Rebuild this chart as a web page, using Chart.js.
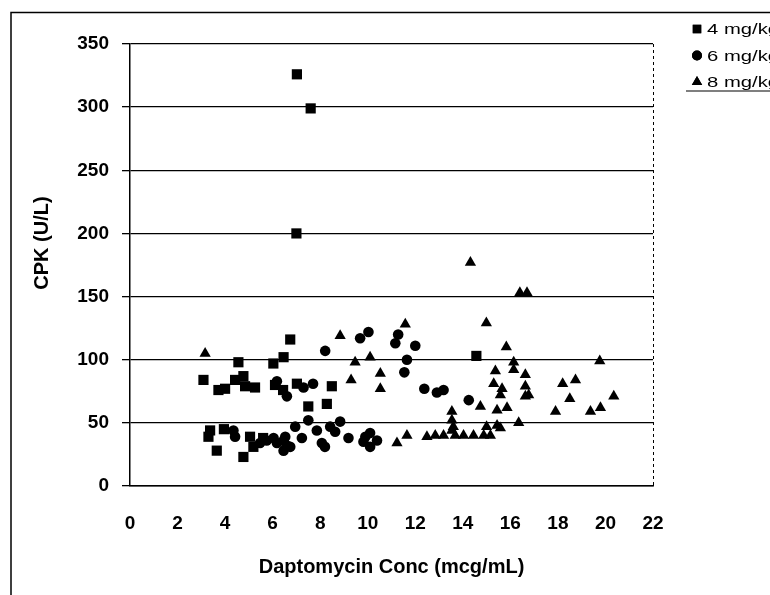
<!DOCTYPE html>
<html><head><meta charset="utf-8">
<script src="https://cdn.jsdelivr.net/npm/chart.js@4/dist/chart.umd.min.js"></script>
<style>html,body{margin:0;padding:0;background:#fff}#wrap{width:770px;height:595px;position:relative}</style>
</head><body><div id="wrap"><canvas id="c" width="770" height="595"></canvas></div>
<script>
// 4 mg/kg
const conc4 = [3.09,3.72,4.0,4.42,4.56,4.77,4.84,5.26,6.03,6.1,6.46,6.74,6.44,7.02,7.5,8.28,8.49,7.02,7.6,7.0,14.57,3.37,3.3,3.65,4.77,5.19,5.05,3.95,5.6];
const cpk4  = [84,76,77,84,98,87,79,78,97,80,102,116,76,81,63,65,79,326,299,200,103,44,39,28,23,31,39,45,38];
// 6 mg/kg
const conc6 = [4.35,4.42,5.47,5.75,6.04,6.18,6.46,6.6,6.46,6.53,6.74,6.95,7.23,7.5,7.86,8.07,8.2,8.42,8.63,8.84,9.19,9.9,10.1,10.39,10.1,9.82,6.18,6.6,7.3,7.7,8.21,9.68,10.03,11.16,11.28,12.0,11.65,11.54,12.38,12.91,13.19,14.25];
const cpk6  = [44,39,34,36,38,34,36,32,28,39,31,47,38,52,44,34,31,47,43,51,38,39,42,36,31,35,83,71,78,81,107,117,122,113,120,111,100,90,77,74,76,68];
// 8 mg/kg
const conc8 = [3.16,8.84,9.3,9.47,10.1,10.53,10.53,11.58,11.23,11.65,12.49,12.84,13.19,13.54,13.54,13.54,13.6,13.68,14.03,14.45,14.32,14.74,14.88,14.99,15.0,15.16,15.3,15.37,15.44,15.44,15.58,15.65,15.58,15.83,15.86,16.14,16.14,16.35,16.4,16.7,16.63,16.63,16.63,16.77,17.9,18.2,18.5,18.74,19.37,19.79,19.76,20.35];
const cpk8  = [105,119,84,98,102,89,77,128,34,40,39,40,40,44,52,59,47,40,40,40,177,63,40,129,47,40,81,91,60,48,72,77,46,110,62,98,92,50,153,153,88,79,71,72,59,81,69,84,59,62,99,71];

const seriesLabels = ['4 mg/kg','6 mg/kg','8 mg/kg'];
const seriesShapes = ['rect','circle','triangle'];
const xTitle = 'Daptomycin Conc (mcg/mL)';
const yTitle = 'CPK (U/L)';
const xMin = 0, xMax = 22, xStep = 2;
const yMin = 0, yMax = 350, yStep = 50;

function toPts(xs, ys){ return xs.map((x,i)=>({x:x, y:ys[i]})); }

const FONT = 'Arial, "Liberation Sans", sans-serif';

const framePlugin = {
  id:'frame',
  afterDraw(chart){
    const ctx = chart.ctx, ca = chart.chartArea;
    ctx.save();
    ctx.strokeStyle = '#000';
    ctx.lineWidth = 1.5;
    ctx.beginPath();
    ctx.moveTo(11, 595); ctx.lineTo(11, 12.5); ctx.lineTo(770, 12.5);
    ctx.stroke();
    // dashed right border of plot
    ctx.lineWidth = 1;
    ctx.setLineDash([3,3]);
    ctx.beginPath();
    ctx.moveTo(Math.round(ca.right)+0.5, ca.top); ctx.lineTo(Math.round(ca.right)+0.5, ca.bottom);
    ctx.stroke();
    ctx.setLineDash([]);
    // y axis title
    ctx.fillStyle = '#000';
    ctx.save();
    ctx.translate(42, 243);
    ctx.rotate(-Math.PI/2);
    ctx.font = 'bold 20px ' + FONT;
    ctx.textAlign = 'center';
    ctx.textBaseline = 'middle';
    ctx.fillText(yTitle, 0, 0);
    ctx.restore();
    // legend
    const lx = 697, ly0 = 29, dy = 26.5;
    ctx.textBaseline = 'middle';
    ctx.textAlign = 'left';
    chart.data.datasets.forEach((ds,i)=>{
      const y = ly0 + i*dy;
      Chart.helpers.drawPoint(ctx, {pointStyle: ds.pointStyle, radius: ds.pointStyle==='circle'?5:6, borderWidth:0, rotation:0}, lx, y);
      ctx.fill();
      ctx.save();
      ctx.translate(lx+10, y+1);
      ctx.scale(1.35, 1);
      ctx.font = '15px ' + FONT;
      ctx.fillText(ds.label, 0, 0);
      ctx.restore();
    });
    ctx.lineWidth = 1.2;
    ctx.beginPath();
    ctx.moveTo(686, ly0+2*dy+9); ctx.lineTo(770, ly0+2*dy+9);
    ctx.stroke();
    ctx.restore();
  }
};

const mk = (i, xs, ys, r) => ({
  label: seriesLabels[i], data: toPts(xs, ys), pointStyle: seriesShapes[i],
  pointRadius: r, pointHoverRadius: r, backgroundColor:'#000', borderColor:'#000', borderWidth:0, showLine:false
});

new Chart(document.getElementById('c'), {
  type:'scatter',
  data:{ datasets:[ mk(0,conc4,cpk4,7.2), mk(1,conc6,cpk6,5.3), mk(2,conc8,cpk8,6.5) ] },
  options:{
    responsive:false, animation:false, devicePixelRatio:1,
    layout:{ padding:{ top:44, right:117, left:0, bottom:0 } },
    plugins:{ legend:{display:false}, tooltip:{enabled:false} },
    scales:{
      x:{ type:'linear', min:xMin, max:xMax,
        ticks:{ stepSize:xStep, color:'#000', font:{size:19, weight:'bold', family:FONT}, padding:26 },
        grid:{ display:false, drawTicks:false },
        border:{ display:true, color:'#000', width:1.5 },
        title:{ display:true, text:xTitle, color:'#000', font:{size:20, weight:'bold', family:FONT}, padding:{top:0,bottom:16} },
        afterFit(s){ s.height = 109; }
      },
      y:{ min:yMin, max:yMax,
        ticks:{ stepSize:yStep, color:'#000', font:{size:19, weight:'bold', family:FONT}, padding:13 },
        grid:{ color:'#000', lineWidth:1.3, tickLength:8, drawTicks:true },
        border:{ display:true, color:'#000', width:1.5 },
        title:{ display:false, text:yTitle },
        afterFit(s){ s.width = 130; }
      }
    }
  },
  plugins:[framePlugin]
});
</script></body></html>
